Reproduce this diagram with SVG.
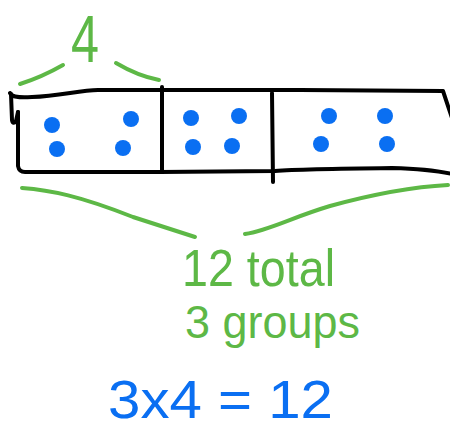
<svg xmlns="http://www.w3.org/2000/svg" width="450" height="430" viewBox="0 0 450 430">
<style>
.ink{fill:none;stroke:#000;stroke-width:4;stroke-linecap:round;stroke-linejoin:round}
.gr{fill:none;stroke:#5db846;stroke-width:4;stroke-linecap:round;stroke-linejoin:round}
.dot{fill:#0a6ff2}
.gt{fill:#5db846;font-family:"Liberation Sans",Arial,sans-serif}
.bt{fill:#0a6ff2;font-family:"Liberation Sans",Arial,sans-serif}
</style>
<rect width="450" height="430" fill="#fff"/>
<g id="bar">
<path class="ink" d="M10,93 C12,97 18,98 32,97 C60,96 80,90 98,90 L300,90 L443,91 L452,118"/>
<path class="ink" d="M11,94 L12,120 Q13,125 16,121 L18,112"/>
<path class="ink" d="M18,112 L18,166 Q19,172 25,172 L160,172 L275,171 Q300,169 392,168 Q430,169 452,174"/>
<path class="ink" d="M162,87 L162,170"/>
<path class="ink" d="M272,93 L273,182"/>
</g>
<g id="group1">
<circle class="dot" cx="52" cy="125" r="8"/>
<circle class="dot" cx="57" cy="149" r="8"/>
<circle class="dot" cx="131" cy="119" r="8"/>
<circle class="dot" cx="123" cy="148" r="8"/>
</g>
<g id="group2">
<circle class="dot" cx="191" cy="118" r="8"/>
<circle class="dot" cx="193" cy="147" r="8"/>
<circle class="dot" cx="239" cy="116" r="8"/>
<circle class="dot" cx="232" cy="146" r="8"/>
</g>
<g id="group3">
<circle class="dot" cx="329" cy="116" r="8"/>
<circle class="dot" cx="321" cy="144" r="8"/>
<circle class="dot" cx="385" cy="116" r="8"/>
<circle class="dot" cx="387" cy="144" r="8"/>
</g>
<g id="label-4">
<path class="gr" d="M20,84 Q42,77 63,65"/>
<path class="gr" d="M116,63 Q138,76 159,80"/>
<text class="gt" x="85" y="62" font-size="66" text-anchor="middle" textLength="28" lengthAdjust="spacingAndGlyphs">4</text>
</g>
<g id="label-total">
<path class="gr" d="M22,188 C50,190 80,196 133,217 L195,237"/>
<path class="gr" d="M245,234 C270,230 290,218 330,206 C370,195 410,187 448,185"/>
<text class="gt" x="182" y="286" font-size="52" textLength="153" lengthAdjust="spacingAndGlyphs">12 total</text>
<text class="gt" x="185" y="338" font-size="46" textLength="175" lengthAdjust="spacingAndGlyphs">3 groups</text>
</g>
<g id="equation">
<text class="bt" x="108" y="418" font-size="54" textLength="225" lengthAdjust="spacingAndGlyphs">3x4 = 12</text>
</g>
</svg>
